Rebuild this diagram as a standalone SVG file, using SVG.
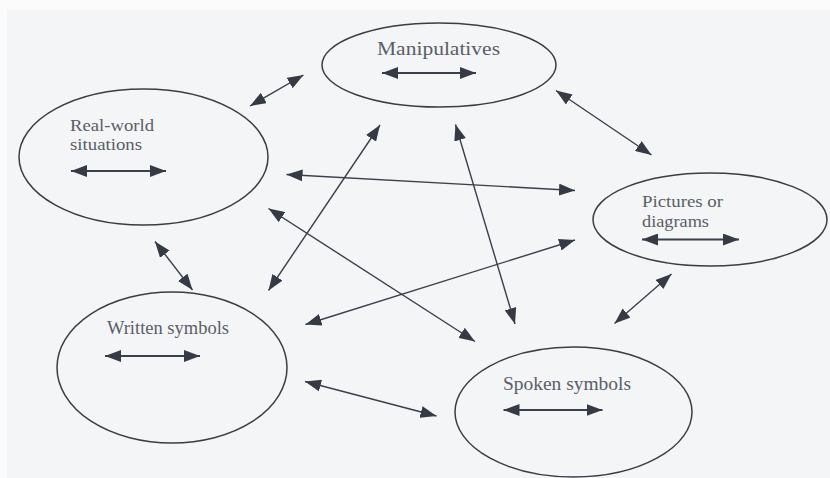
<svg xmlns="http://www.w3.org/2000/svg" width="830" height="478" viewBox="0 0 830 478">
  <style>
    .node ellipse { fill: none; stroke: #3a3d44; stroke-width: 1.5; }
    .node text { font-family: "Liberation Serif", "Times New Roman", serif; font-size: 19px; fill: #5a5e66; }
    .node text.two { font-size: 17px; }
    .inner { stroke: #3a3f4a; stroke-width: 2; marker-start: url(#ah); marker-end: url(#ah); }
    #connectors line { stroke: #3a3f4a; stroke-width: 1.4; marker-start: url(#ah); marker-end: url(#ah); }
  </style>
  <defs>
    <marker id="ah" viewBox="0 0 16 12" refX="16" refY="6" markerWidth="16" markerHeight="12" markerUnits="userSpaceOnUse" orient="auto-start-reverse">
      <path d="M0,0 L16,6 L0,12 z" fill="#353a45"/>
    </marker>
  </defs>
  <rect x="0" y="0" width="830" height="478" fill="#f4f5f7"/>
  <rect x="0" y="0" width="830" height="10" fill="#fbfbfc"/>
  <rect x="0" y="0" width="7" height="478" fill="#fbfbfc"/>

  <g id="manipulatives" class="node">
    <ellipse cx="439" cy="65" rx="117" ry="42"/>
    <text x="377" y="55" textLength="123" lengthAdjust="spacingAndGlyphs">Manipulatives</text>
    <line class="inner" x1="382" y1="73" x2="476" y2="73"/>
  </g>

  <g id="real-world" class="node">
    <ellipse cx="143.5" cy="157" rx="124.5" ry="68"/>
    <text class="two" x="70" y="131" textLength="84" lengthAdjust="spacingAndGlyphs">Real-world</text>
    <text class="two" x="70" y="150" textLength="72" lengthAdjust="spacingAndGlyphs">situations</text>
    <line class="inner" x1="71" y1="171" x2="166" y2="171"/>
  </g>

  <g id="pictures" class="node">
    <ellipse cx="710" cy="219.5" rx="117" ry="46.5"/>
    <text class="two" x="642" y="207" textLength="81" lengthAdjust="spacingAndGlyphs">Pictures or</text>
    <text class="two" x="642" y="226.5" textLength="67" lengthAdjust="spacingAndGlyphs">diagrams</text>
    <line class="inner" x1="642" y1="239.5" x2="739" y2="239.5"/>
  </g>

  <g id="written" class="node">
    <ellipse cx="172" cy="367.5" rx="115" ry="75.5"/>
    <text x="107" y="334" textLength="122" lengthAdjust="spacingAndGlyphs">Written symbols</text>
    <line class="inner" x1="105" y1="356" x2="200" y2="356"/>
  </g>

  <g id="spoken" class="node">
    <ellipse cx="573.5" cy="412" rx="118.5" ry="65"/>
    <text x="503" y="390" textLength="128" lengthAdjust="spacingAndGlyphs">Spoken symbols</text>
    <line class="inner" x1="503.5" y1="410" x2="602.5" y2="410"/>
  </g>

  <g id="connectors">
    <line x1="250" y1="106" x2="303.5" y2="75"/>
    <line x1="556" y1="90.5" x2="651.5" y2="155"/>
    <line x1="286.5" y1="174.5" x2="575" y2="190.5"/>
    <line x1="155" y1="241.5" x2="192.5" y2="290"/>
    <line x1="380" y1="125" x2="268.5" y2="290.5"/>
    <line x1="455.5" y1="124.5" x2="515" y2="324"/>
    <line x1="268.5" y1="208.5" x2="475" y2="341.5"/>
    <line x1="305.5" y1="324.5" x2="575" y2="240"/>
    <line x1="671.5" y1="274" x2="614.5" y2="323.5"/>
    <line x1="305" y1="381.5" x2="436.5" y2="416"/>
  </g>
</svg>
